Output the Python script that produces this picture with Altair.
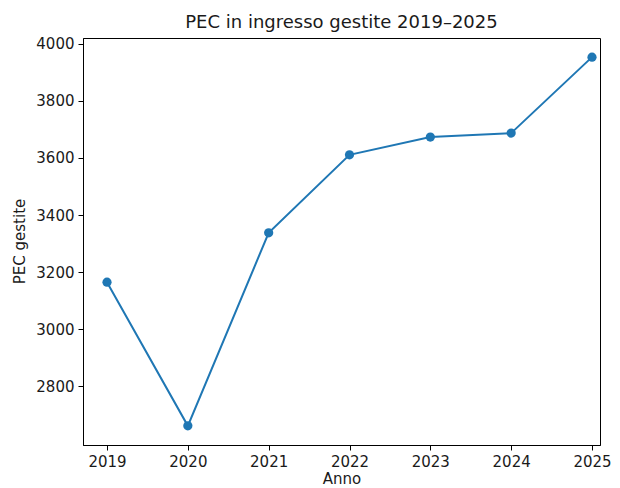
import altair as alt
import pandas as pd

anni = [2019, 2020, 2021, 2022, 2023, 2024, 2025]
pec = [3165, 2662, 3338, 3611, 3673, 3687, 3953]
x_ticks = [2019, 2020, 2021, 2022, 2023, 2024, 2025]
y_ticks = [2800, 3000, 3200, 3400, 3600, 3800, 4000]

df = pd.DataFrame({"Anno": anni, "PEC": pec})

FONT = "DejaVu Sans"
BLUE = "#1f77b4"
TXT = "#1a1a1a"

base = alt.Chart(df).encode(
    x=alt.X("Anno:Q",
            scale=alt.Scale(domain=[2018.703, 2025.099], nice=False, zero=False),
            axis=alt.Axis(values=x_ticks, format="d", title="Anno", grid=False,
                          tickSize=5, labelPadding=4, labelFontSize=15,
                          titleFontSize=15, titleFontWeight="normal",
                          titleY=33, titleBaseline="middle",
                          domainColor="black", tickColor="black",
                          labelColor=TXT, titleColor=TXT,
                          labelFont=FONT, titleFont=FONT)),
    y=alt.Y("PEC:Q",
            scale=alt.Scale(domain=[2595, 4020], nice=False, zero=False),
            axis=alt.Axis(values=y_ticks, format="d", title="PEC gestite", grid=False,
                          tickSize=5, labelPadding=4, labelFontSize=15,
                          titleFontSize=15, titleFontWeight="normal",
                          titleX=-64, titleY=203, titleBaseline="middle",
                          titleAngle=-90, titleAlign="center",
                          labelFlush=False,
                          domainColor="black", tickColor="black",
                          labelColor=TXT, titleColor=TXT,
                          labelFont=FONT, titleFont=FONT)),
)

line = base.mark_line(color=BLUE, strokeWidth=2)
points = base.mark_circle(color=BLUE, size=85, opacity=1)

chart = (line + points).properties(
    width=517,
    height=407,
    title=alt.TitleParams("PEC in ingresso gestite 2019–2025", fontSize=18,
                          font=FONT, fontWeight="normal", color=TXT,
                          anchor="middle", offset=5),
    autosize=alt.AutoSizeParams(type="none"),
    padding={"left": 75, "top": 30, "right": 12, "bottom": 42},
).configure_view(stroke="black", strokeWidth=1)

chart.save("out.html", embed_options={"renderer": "svg", "actions": False})
